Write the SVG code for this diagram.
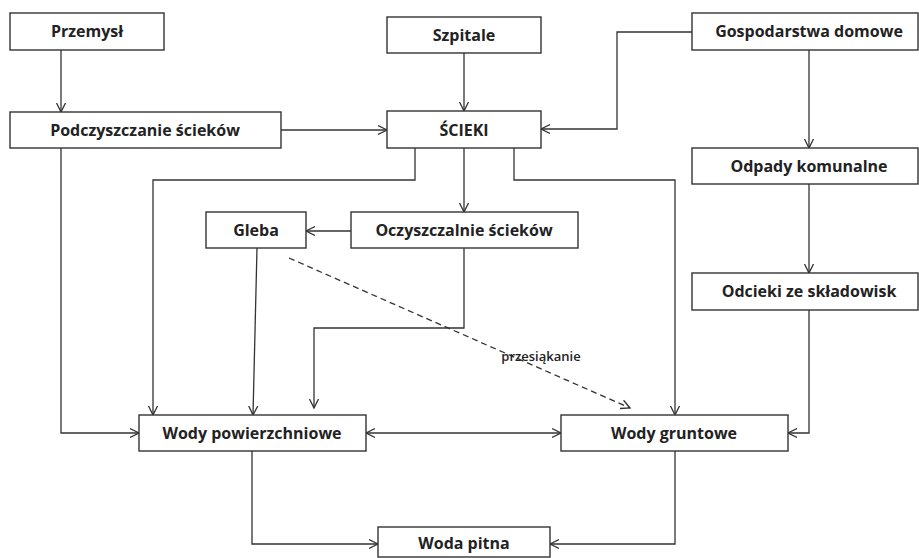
<svg xmlns="http://www.w3.org/2000/svg" width="919" height="558" viewBox="0 0 919 558">
<style>
.box{fill:#fff;stroke:#333;stroke-width:1.4}
.lbl{font-family:"Open Sans","Liberation Sans",sans-serif;font-weight:700;font-size:16px;fill:#222;text-anchor:middle}
.small{font-family:"Open Sans","Liberation Sans",sans-serif;font-weight:600;font-size:13px;fill:#222;text-anchor:middle}
.c{fill:none;stroke:#333;stroke-width:1.3}
.dash{stroke-dasharray:6,4}
</style>
<defs>
<marker id="a" markerUnits="userSpaceOnUse" markerWidth="12" markerHeight="12" refX="9" refY="5" orient="auto-start-reverse" viewBox="0 0 12 10">
<path d="M0,0.5 L9,5 L0,9.5" fill="none" stroke="#333" stroke-width="1.3"/>
</marker>
</defs>
<rect width="919" height="558" fill="#fff"/>
<g id="connectors">
<path class="c" d="M61,50 V112" marker-end="url(#a)"/>
<path class="c" d="M464,53 V111" marker-end="url(#a)"/>
<path class="c" d="M281,130 H387" marker-end="url(#a)"/>
<path class="c" d="M692,32 H617 V129 H541" marker-end="url(#a)"/>
<path class="c" d="M809,50 V148" marker-end="url(#a)"/>
<path class="c" d="M809,184 V273" marker-end="url(#a)"/>
<path class="c" d="M809,310 V433 H788" marker-end="url(#a)"/>
<path class="c" d="M464,148 V212" marker-end="url(#a)"/>
<path class="c" d="M415,148 V180 H153 V415" marker-end="url(#a)"/>
<path class="c" d="M514,148 V180 H675 V415" marker-end="url(#a)"/>
<path class="c" d="M351,231 H306" marker-end="url(#a)"/>
<path class="c" d="M61,148 V433 H139" marker-end="url(#a)"/>
<path class="c" d="M257,248 L253,415" marker-end="url(#a)"/>
<path class="c" d="M464,248 V328 H314 V408" marker-end="url(#a)"/>
<path class="c dash" d="M289,258 L630,408" marker-end="url(#a)"/>
<path class="c" d="M366,433 H561" marker-start="url(#a)" marker-end="url(#a)"/>
<path class="c" d="M252,451 V544 H378" marker-end="url(#a)"/>
<path class="c" d="M675,451 V544 H550" marker-end="url(#a)"/>
<text class="small" x="541" y="361">przesiąkanie</text>
</g>
<g id="n-przemysl"><rect class="box" x="10" y="13" width="154" height="37"/><text class="lbl" x="87" y="37">Przemysł</text></g>
<g id="n-szpitale"><rect class="box" x="387" y="17" width="154" height="36"/><text class="lbl" x="464" y="41">Szpitale</text></g>
<g id="n-gospodarstwa"><rect class="box" x="692" y="13" width="226" height="37"/><text class="lbl" x="809" y="37">Gospodarstwa domowe</text></g>
<g id="n-podczyszczanie"><rect class="box" x="10" y="112" width="271" height="36"/><text class="lbl" x="145" y="136">Podczyszczanie ścieków</text></g>
<g id="n-scieki"><rect class="box" x="387" y="111" width="154" height="37"/><text class="lbl" x="464" y="136">ŚCIEKI</text></g>
<g id="n-odpady"><rect class="box" x="692" y="148" width="226" height="36"/><text class="lbl" x="809" y="172">Odpady komunalne</text></g>
<g id="n-gleba"><rect class="box" x="206" y="212" width="100" height="36"/><text class="lbl" x="256" y="236">Gleba</text></g>
<g id="n-oczyszczalnie"><rect class="box" x="351" y="212" width="227" height="36"/><text class="lbl" x="464" y="236">Oczyszczalnie ścieków</text></g>
<g id="n-odcieki"><rect class="box" x="692" y="273" width="226" height="37"/><text class="lbl" x="809" y="297">Odcieki ze składowisk</text></g>
<g id="n-powierzchniowe"><rect class="box" x="139" y="415" width="227" height="36"/><text class="lbl" x="252" y="439">Wody powierzchniowe</text></g>
<g id="n-gruntowe"><rect class="box" x="561" y="415" width="227" height="36"/><text class="lbl" x="674" y="439">Wody gruntowe</text></g>
<g id="n-pitna"><rect class="box" x="378" y="527" width="172" height="30"/><text class="lbl" x="464" y="549">Woda pitna</text></g>
</svg>
